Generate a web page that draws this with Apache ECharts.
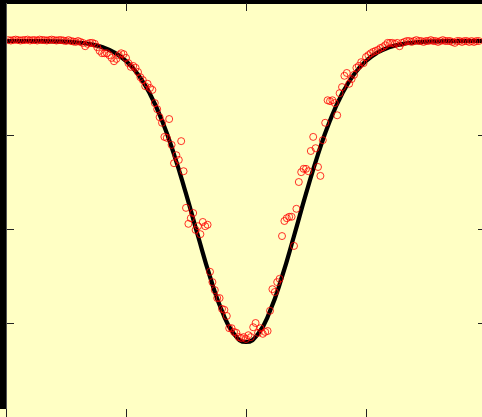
<!DOCTYPE html>
<html>
<head>
<meta charset="utf-8">
<script src="https://cdn.jsdelivr.net/npm/echarts@6/dist/echarts.min.js"></script>
<style>
  html, body { margin: 0; padding: 0; overflow: hidden; width: 482px; height: 417px; background: #FFFFC4; }
  #chart { width: 492px; height: 420px; }
</style>
</head>
<body>
<div id="chart"></div>
<script>
// Observed samples (circles)
const obsX = [
  -1.98,-1.96,-1.94,-1.92,-1.90,-1.88,-1.86,-1.84,-1.82,-1.80,
  -1.78,-1.76,-1.74,-1.72,-1.70,-1.68,-1.66,-1.64,-1.62,-1.60,
  -1.58,-1.56,-1.54,-1.52,-1.50,-1.48,-1.46,-1.44,-1.42,-1.40,
  -1.38,-1.36,-1.34,-1.32,-1.30,-1.28,-1.26,-1.24,-1.22,-1.20,
  -1.18,-1.16,-1.14,-1.12,-1.10,-1.08,-1.06,-1.04,-1.02,-1.00,
  -0.98,-0.96,-0.94,-0.92,-0.90,-0.88,-0.86,-0.84,-0.82,-0.80,
  -0.78,-0.76,-0.74,-0.72,-0.70,-0.68,-0.66,-0.64,-0.62,-0.60,
  -0.58,-0.56,-0.54,-0.52,-0.50,-0.48,-0.46,-0.44,-0.42,-0.40,
  -0.38,-0.36,-0.34,-0.32,-0.30,-0.28,-0.26,-0.24,-0.22,-0.20,
  -0.18,-0.16,-0.14,-0.12,-0.10,-0.08,-0.06,-0.04,-0.02,0.00,
  0.02,0.04,0.06,0.08,0.10,0.12,0.14,0.16,0.18,0.20,
  0.22,0.24,0.26,0.28,0.30,0.32,0.34,0.36,0.38,0.40,
  0.42,0.44,0.46,0.48,0.50,0.52,0.54,0.56,0.58,0.60,
  0.62,0.64,0.66,0.68,0.70,0.72,0.74,0.76,0.78,0.80,
  0.82,0.84,0.86,0.88,0.90,0.92,0.94,0.96,0.98,1.00,
  1.02,1.04,1.06,1.08,1.10,1.12,1.14,1.16,1.18,1.20,
  1.22,1.24,1.26,1.28,1.30,1.32,1.34,1.36,1.38,1.40,
  1.42,1.44,1.46,1.48,1.50,1.52,1.54,1.56,1.58,1.60,
  1.62,1.64,1.66,1.68,1.70,1.72,1.74,1.76,1.78,1.80,
  1.82,1.84,1.86,1.88,1.90,1.92,1.94
];
const obsY = [
  1.002,1.001,1.002,1.003,1.002,1.001,1.002,1.002,1.003,1.001,
  1.002,1.002,1.001,1.003,1.002,1.002,1.001,1.002,1.003,1.002,
  1.001,1.002,1.002,1.001,1.000,1.002,1.000,0.999,0.998,1.000,
  0.998,0.996,0.989,0.994,0.996,0.996,0.994,0.987,0.979,0.974,
  0.974,0.974,0.970,0.964,0.957,0.962,0.970,0.974,0.972,0.964,
  0.953,0.945,0.947,0.943,0.934,0.923,0.917,0.904,0.909,0.900,
  0.896,0.868,0.855,0.838,0.826,0.796,0.794,0.834,0.779,0.740,
  0.757,0.747,0.787,0.723,0.645,0.611,0.623,0.634,0.598,0.606,
  0.589,0.615,0.606,0.609,0.509,0.487,0.470,0.453,0.453,0.430,
  0.428,0.415,0.389,0.389,0.381,0.379,0.370,0.368,0.370,0.366,
  0.374,0.370,0.391,0.400,0.379,0.389,0.377,0.381,0.383,0.426,
  0.472,0.466,0.487,0.494,0.585,0.617,0.623,0.626,0.626,0.564,
  0.643,0.700,0.721,0.728,0.728,0.723,0.766,0.796,0.772,0.732,
  0.713,0.789,0.826,0.874,0.872,0.874,0.868,0.842,0.889,0.902,
  0.926,0.932,0.909,0.919,0.928,0.943,0.947,0.955,0.953,0.966,
  0.970,0.974,0.977,0.979,0.981,0.985,0.987,0.991,0.996,0.996,
  0.996,0.994,0.996,0.989,0.996,0.998,1.000,1.000,0.998,1.000,
  1.002,1.000,1.000,0.998,1.000,1.000,1.002,1.000,1.000,0.998,
  1.000,1.002,1.000,1.000,1.000,0.998,0.996,1.000,1.000,0.998,
  1.000,1.000,0.998,1.000,0.998,1.000,1.000
];

// Fitted profile (thick line)
const fitX = [
  -2.0,-1.9,-1.8,-1.7,-1.6,-1.5,-1.4,-1.3,-1.2,-1.1,
  -1.0,-0.9,-0.8,-0.7,-0.6,-0.5,-0.4,-0.3,-0.2,-0.1,
  0.0,
  0.1,0.2,0.3,0.4,0.5,0.6,0.7,0.8,0.9,1.0,
  1.1,1.2,1.3,1.4,1.5,1.6,1.7,1.8,1.9,2.0
];
const fitY = [
  1.0000,1.0000,1.0000,0.9998,0.9994,0.9986,0.9969,0.9935,0.9872,0.9760,
  0.9576,0.9290,0.8873,0.8307,0.7590,0.6751,0.5852,0.4984,0.4255,0.3767,
  0.3596,
  0.3767,0.4255,0.4984,0.5852,0.6751,0.7590,0.8307,0.8873,0.9290,0.9576,
  0.9760,0.9872,0.9935,0.9969,0.9986,0.9994,0.9998,1.0000,1.0000,1.0000
];

// Axis tick positions (no labels drawn)
const xTicks = [-2, -1, 0, 1, 2];
const yTicks = [0.2, 0.4, 0.6, 0.8, 1.0];

const obsData = obsX.map((x, i) => [x, obsY[i]]);
const fitData = fitX.map((x, i) => [x, fitY[i]]);

const tickStyle = { inside: true, length: 8, lineStyle: { color: '#222', width: 1 } };

function xAxisDef(pos) {
  return {
    type: 'value', position: pos, min: -2, max: 2, interval: 1,
    axisLine: { show: pos === 'top', onZero: false, lineStyle: { color: '#000', width: 1 } },
    axisTick: Object.assign({ customValues: xTicks }, tickStyle),
    axisLabel: { show: false, customValues: xTicks },
    splitLine: { show: false }
  };
}
function yAxisDef(pos) {
  return {
    type: 'value', position: pos, min: 0.2, max: 1.0809, interval: 0.2,
    axisLine: { show: false, onZero: false },
    axisTick: Object.assign({ customValues: yTicks }, tickStyle),
    axisLabel: { show: false, customValues: yTicks },
    splitLine: { show: false }
  };
}

const chart = echarts.init(document.getElementById('chart'), null, { renderer: 'canvas' });
chart.setOption({
  backgroundColor: '#FFFFC4',
  animation: false,
  grid: { left: 6, top: 3, width: 480, height: 414 },
  xAxis: [xAxisDef('bottom'), xAxisDef('top')],
  yAxis: [yAxisDef('left'), yAxisDef('right')],
  graphic: [
    { type: 'rect', left: 0, top: 0, shape: { x: 0, y: 0, width: 492, height: 3 }, style: { fill: '#000' }, z: 100 },
    { type: 'rect', left: 0, top: 0, shape: { x: 0, y: 0, width: 6, height: 409 }, style: { fill: '#000' }, z: 100 },
    { type: 'line', shape: { x1: 6.5, y1: 3, x2: 6.5, y2: 409 }, style: { stroke: '#555', lineWidth: 1 }, z: 100 }
  ],
  series: [
    {
      type: 'line', data: fitData, xAxisIndex: 0, yAxisIndex: 0,
      showSymbol: false, smooth: true,
      lineStyle: { color: '#000', width: 4.2 }, z: 2
    },
    {
      type: 'scatter', data: obsData, xAxisIndex: 0, yAxisIndex: 0,
      symbol: 'circle', symbolSize: 7,
      itemStyle: { color: 'rgba(0,0,0,0)', borderColor: '#ff0000', borderWidth: 1 }, z: 3
    }
  ]
});
</script>
</body>
</html>
